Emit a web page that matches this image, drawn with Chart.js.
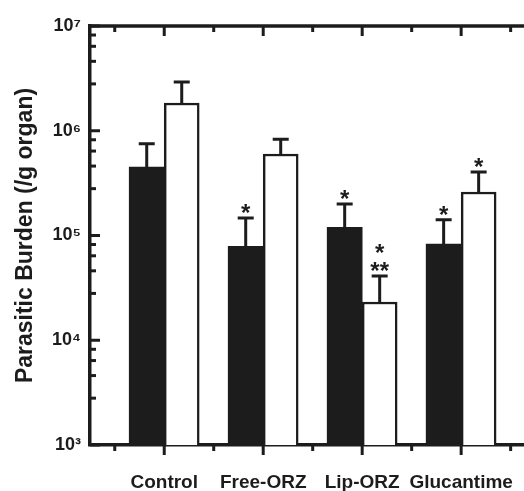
<!DOCTYPE html>
<html>
<head>
<meta charset="utf-8">
<script src="https://cdn.jsdelivr.net/npm/chart.js@4.4.0/dist/chart.umd.min.js"></script>
<style>
  html, body { margin: 0; padding: 0; background: #fff; overflow: hidden; }
  #wrap { width: 524px; height: 491px; }
</style>
</head>
<body>
<div id="wrap"><canvas id="chart" width="524" height="491"></canvas></div>
<script>
const groups = ["Control", "Free-ORZ", "Lip-ORZ", "Glucantime"];
const groupPos = [1, 2, 3, 4];
const blackValues = [450000, 79000, 120000, 83000];
const blackErrTop = [750000, 147000, 200000, 141000];
const whiteValues = [1840000, 600000, 23200, 260000];
const whiteErrTop = [2920000, 830000, 41000, 404000];
const blackMarks = ["", "*", "*", "*"];
const whiteMarks = ["", "", "*\n**", "*"];
const yMajorTicks = [1e3, 1e4, 1e5, 1e6, 1e7];
const yMinorSteps = [2.8, 4.6, 6.4, 8.2];
const xTickValues = [0.5, 1, 1.5, 2, 2.5, 3, 3.5, 4, 4.5];

const ink = "#1c1c1c";
const supDigits = { "3": "\u00b3", "4": "\u2074", "5": "\u2075", "6": "\u2076", "7": "\u2077" };

Chart.defaults.font.family = "'Liberation Sans', Arial, sans-serif";
Chart.defaults.color = ink;

// error bars and significance stars on top of each bar
const errorBars = {
  id: "errorBars",
  afterDatasetsDraw(chart) {
    const { ctx, scales: { y } } = chart;
    ctx.save();
    ctx.strokeStyle = ink;
    ctx.fillStyle = ink;
    ctx.lineWidth = 3;
    chart.data.datasets.forEach((ds, di) => {
      const meta = chart.getDatasetMeta(di);
      meta.data.forEach((bar, i) => {
        const top = y.getPixelForValue(ds.errTop[i]);
        ctx.beginPath();
        ctx.moveTo(bar.x, bar.y);
        ctx.lineTo(bar.x, top);
        ctx.moveTo(bar.x - 8, top);
        ctx.lineTo(bar.x + 8, top);
        ctx.stroke();

        const mark = ds.marks[i];
        if (!mark) return;
        ctx.font = "bold 24px 'Liberation Sans', Arial, sans-serif";
        ctx.textAlign = "center";
        ctx.textBaseline = "alphabetic";
        const lines = mark.split("\n");
        let bottom = top - 5;
        for (let k = lines.length - 1; k >= 0; k--) {
          const m = ctx.measureText(lines[k]);
          ctx.fillText(lines[k], bar.x, bottom - m.actualBoundingBoxDescent);
          bottom -= 18;
        }
      });
    });
    ctx.restore();
  }
};

// top frame line and inward / outward tick marks
const tickMarks = {
  id: "tickMarks",
  afterDraw(chart) {
    const { ctx, chartArea: a, scales: { x, y } } = chart;
    ctx.save();
    ctx.strokeStyle = ink;
    const line = (x1, y1, x2, y2) => {
      ctx.beginPath();
      ctx.moveTo(x1, y1);
      ctx.lineTo(x2, y2);
      ctx.stroke();
    };
    ctx.lineWidth = 3.5;
    line(a.left - 1.75, a.top, a.right, a.top);
    ctx.lineWidth = 3;
    x.ticks.forEach(t => {
      const px = x.getPixelForValue(t.value);
      const len = Number.isInteger(t.value) ? 10 : 6;
      line(px, a.bottom, px, a.bottom + len);
      line(px, a.top, px, a.top + len);
    });
    y.ticks.forEach(t => {
      const py = y.getPixelForValue(t.value);
      const len = yMajorTicks.includes(t.value) ? 10 : 6;
      line(a.left, py, a.left + len, py);
    });
    ctx.restore();
  }
};

const ctx = document.getElementById("chart").getContext("2d");
new Chart(ctx, {
  type: "bar",
  data: {
    datasets: [
      {
        data: groupPos.map((x, i) => ({ x: x, y: blackValues[i] })),
        backgroundColor: ink,
        borderColor: ink,
        borderWidth: 0,
        barThickness: 35,
        errTop: blackErrTop,
        marks: blackMarks
      },
      {
        data: groupPos.map((x, i) => ({ x: x, y: whiteValues[i] })),
        backgroundColor: "#ffffff",
        borderColor: ink,
        borderWidth: 2.5,
        barThickness: 35,
        errTop: whiteErrTop,
        marks: whiteMarks
      }
    ]
  },
  options: {
    responsive: false,
    animation: false,
    layout: { padding: { top: 26, right: 0, bottom: 0, left: 0 } },
    plugins: { legend: { display: false }, tooltip: { enabled: false } },
    scales: {
      x: {
        type: "linear",
        offset: false,
        min: 0.25,
        max: 4.635,
        grid: { drawOnChartArea: false, drawTicks: true, tickLength: 26, tickColor: "rgba(0,0,0,0)" },
        border: { display: true, width: 3.5, color: ink },
        afterBuildTicks: s => { s.ticks = xTickValues.map(v => ({ value: v })); },
        afterFit: s => { s.height = 46; },
        ticks: {
          autoSkip: false,
          maxRotation: 0,
          padding: 0,
          font: { size: 19, weight: "bold" },
          callback: v => Number.isInteger(v) ? groups[v - 1] : ""
        }
      },
      y: {
        type: "logarithmic",
        min: 1e3,
        max: 1e7,
        grid: { drawOnChartArea: false, drawTicks: false },
        border: { display: true, width: 3.5, color: ink },
        afterBuildTicks: s => {
          const vals = [];
          yMajorTicks.forEach((m, i) => {
            vals.push(m);
            if (i < yMajorTicks.length - 1) yMinorSteps.forEach(k => vals.push(m * k));
          });
          s.ticks = vals.map(v => ({ value: v }));
        },
        afterFit: s => { s.width = 90; },
        ticks: {
          autoSkip: false,
          padding: 9,
          font: { size: 18, weight: "bold" },
          callback: v => {
            if (!yMajorTicks.includes(v)) return "";
            const e = String(Math.round(Math.log10(v)));
            return "10" + supDigits[e];
          }
        },
        title: {
          display: true,
          text: "Parasitic Burden (/g organ)",
          font: { size: 23, weight: "bold" },
          padding: { top: 12, bottom: 0 }
        }
      }
    }
  },
  plugins: [errorBars, tickMarks]
});
</script>
</body>
</html>
